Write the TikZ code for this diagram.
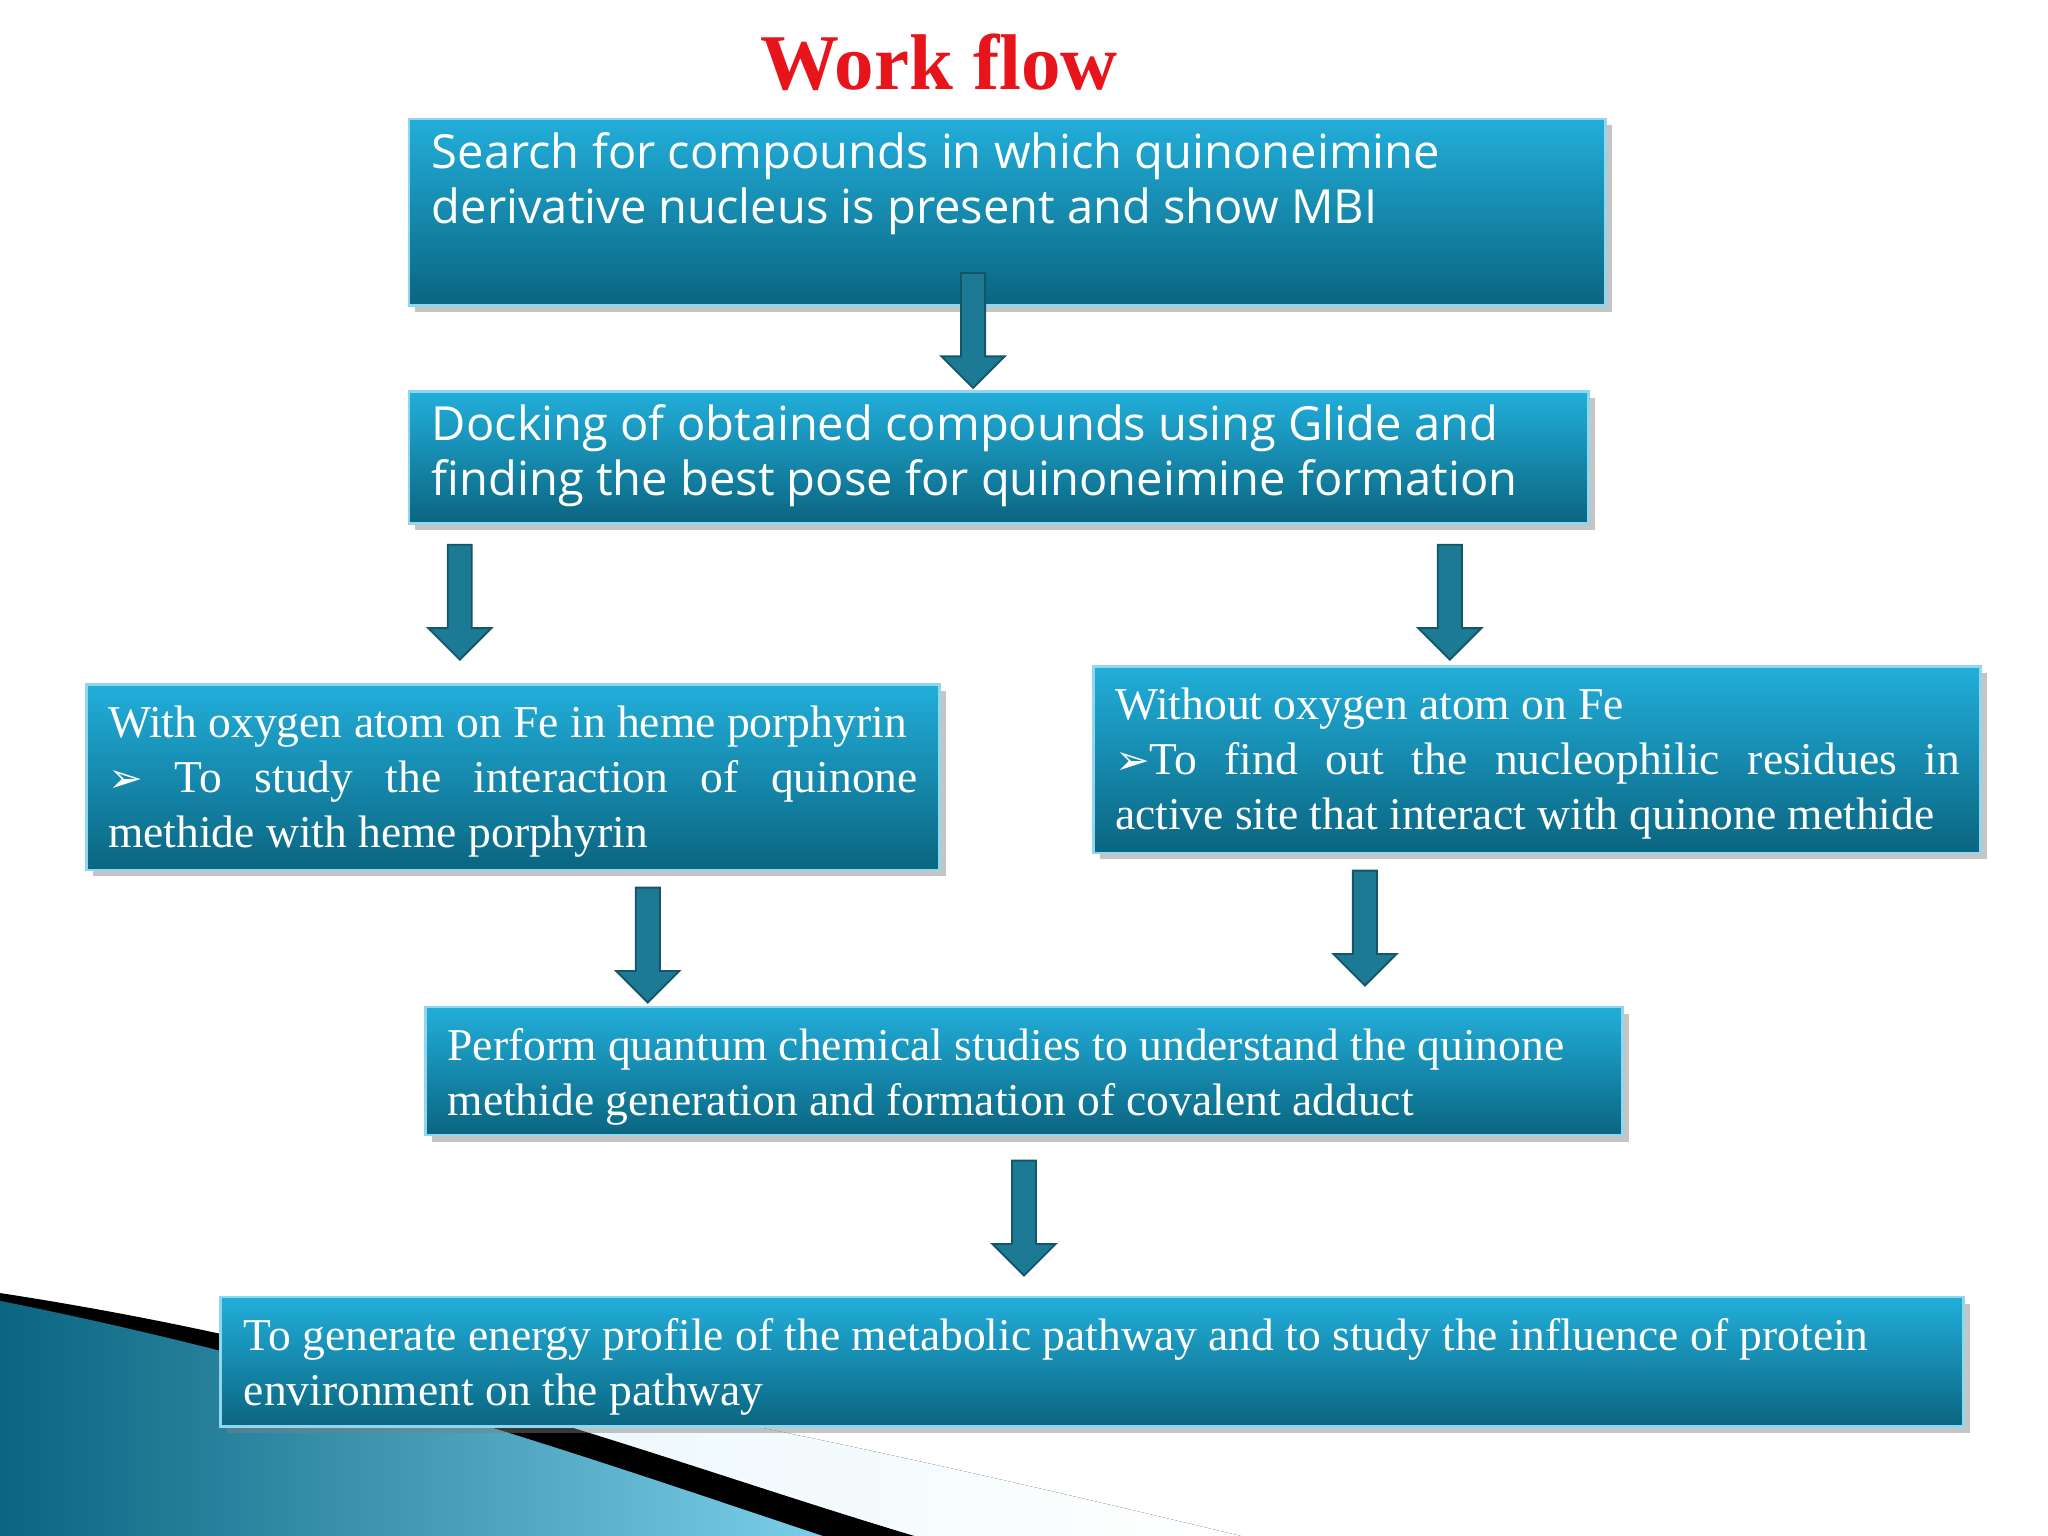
\documentclass[tikz,border=0pt]{standalone}
\usepackage{fontspec}
\setmainfont{Liberation Serif}
\newfontfamily\boxsans{Open Sans}
\newfontfamily\symfont{DejaVu Sans}
\usetikzlibrary{shapes.arrows,shadows}
\definecolor{boxtop}{HTML}{22AEDA}
\definecolor{boxbot}{HTML}{0A6580}
\definecolor{arrowc}{HTML}{1D7A95}
\definecolor{titlered}{HTML}{E8141B}
\tikzset{
  flowbox/.style={draw=boxtop!50!white, line width=0.6pt, top color=boxtop, bottom color=boxbot, inner sep=0pt, anchor=north west, drop shadow={shadow xshift=0.05cm, shadow yshift=-0.05cm, opacity=0.45}},
  boxtxt/.style={anchor=north west, inner sep=0pt, text=white, align=left, font=\fontsize{9.92}{12}\selectfont},
  sanstxt/.style={boxtxt, font=\boxsans\fontsize{10.25}{12}\selectfont},
  downarrow/.style={single arrow, draw=arrowc!70!black, line width=0.4pt, fill=arrowc, minimum height=0.88cm, minimum width=0.48cm, inner sep=0.085cm, single arrow head extend=0.15cm, single arrow tip angle=90, rotate=-90}
}
\begin{document}
\begin{tikzpicture}[x=1cm,y=1cm]
\useasboundingbox (0,0) rectangle (15.68,11.76);
\fill[white] (0,0) rectangle (15.68,11.76);
% bottom-left decoration
\fill[left color=white!85!boxtop, right color=white] (0,1.76) .. controls (4,1.3) and (7,0.6) .. (9.5,0) -- (0,0) -- cycle;
\fill[black] (0,1.86) .. controls (3,1.4) and (5,0.6) .. (7.0,0) -- (0,0) -- cycle;
\fill[left color=boxbot, right color=boxtop!60!white] (0,1.8) .. controls (2.5,1.3) and (4.5,0.6) .. (6.3,0) -- (0,0) -- cycle;
% title
\node[font=\bfseries\fontsize{17.2}{20}\selectfont, text=titlered] (title) at (7.19,11.28) {Work flow};
% boxes
\node[flowbox, minimum width=9.16cm, minimum height=1.43cm] (b1) at (3.12,10.86) {};
\node[flowbox, minimum width=9.03cm, minimum height=1.01cm] (b2) at (3.12,8.77) {};
\node[flowbox, minimum width=6.53cm, minimum height=1.42cm] (b3) at (0.65,6.53) {};
\node[flowbox, minimum width=6.79cm, minimum height=1.43cm] (b4) at (8.36,6.67) {};
\node[flowbox, minimum width=9.16cm, minimum height=0.98cm] (b5) at (3.25,4.06) {};
\node[flowbox, minimum width=13.34cm, minimum height=0.99cm] (b6) at (1.68,1.84) {};
% texts
\node[sanstxt] (t1) at ([xshift=0.18cm,yshift=-0.11cm]b1.north west) {Search for compounds in which quinoneimine\\derivative nucleus is present and show MBI};
\node[sanstxt] (t2) at ([xshift=0.18cm,yshift=-0.1cm]b2.north west) {Docking of obtained compounds using Glide and\\finding the best pose for quinoneimine formation};
\node[boxtxt] (t3) at ([xshift=0.17cm,yshift=-0.17cm]b3.north west) {With oxygen atom on Fe in heme porphyrin\\\makebox[6.2cm][s]{{\symfont\small ➢} To study the interaction of quinone}\\methide with heme porphyrin};
\node[boxtxt] (t4) at ([xshift=0.17cm,yshift=-0.17cm]b4.north west) {Without oxygen atom on Fe\\\makebox[6.47cm][s]{{\symfont\small ➢}To find out the nucleophilic residues in}\\active site that interact with quinone methide};
\node[boxtxt] (t5) at ([xshift=0.17cm,yshift=-0.17cm]b5.north west) {Perform quantum chemical studies to understand the quinone\\methide generation and formation of covalent adduct};
\node[boxtxt] (t6) at ([xshift=0.18cm,yshift=-0.17cm]b6.north west) {To generate energy profile of the metabolic pathway and to study the influence of protein\\environment on the pathway};
% arrows
\node[downarrow] (a1) at (7.45,9.275) {};
\node[downarrow] (a2) at (3.52,7.195) {};
\node[downarrow] (a3) at (11.10,7.195) {};
\node[downarrow] (a4) at (4.96,4.57) {};
\node[downarrow] (a5) at (10.45,4.70) {};
\node[downarrow] (a6) at (7.84,2.48) {};
\end{tikzpicture}
\end{document}
